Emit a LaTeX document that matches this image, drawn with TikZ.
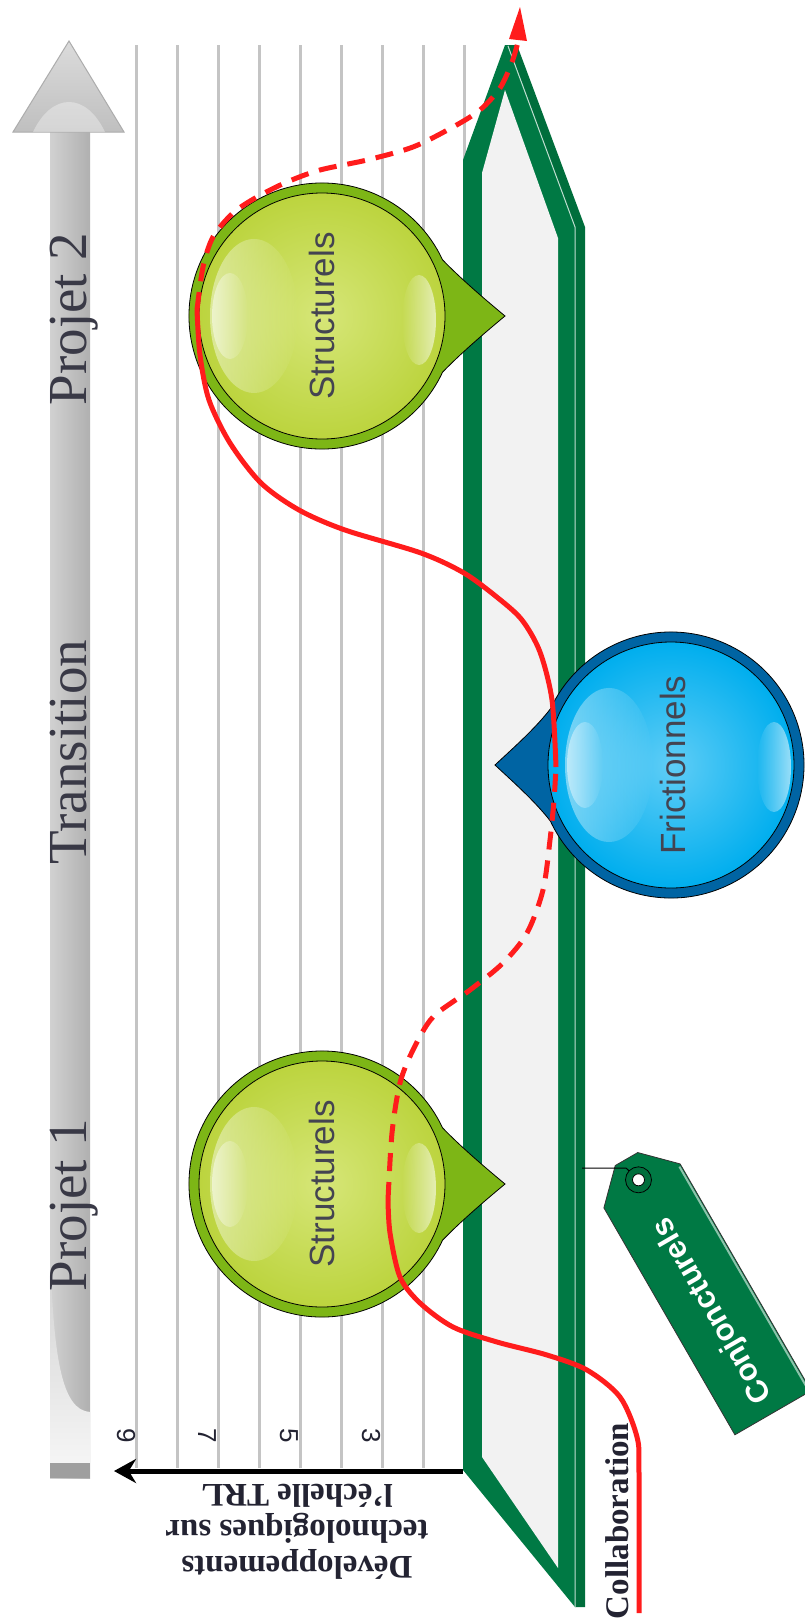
\documentclass[tikz,border=0pt]{standalone}
\usepackage{fontspec}
\setmainfont{Liberation Serif}
\newfontfamily\policesans{Liberation Sans}
\usetikzlibrary{arrows.meta,fadings}
\definecolor{vertfonce}{RGB}{0,121,68}
\definecolor{vertcote}{RGB}{0,110,60}
\definecolor{gristrait}{RGB}{196,196,196}
\definecolor{fondgris}{RGB}{242,242,242}
\definecolor{rouge0}{RGB}{255,28,28}
\definecolor{anneauvert}{RGB}{125,182,22}
\definecolor{fondvert}{RGB}{188,212,62}
\definecolor{clairvert}{RGB}{214,230,120}
\definecolor{anneaubleu}{RGB}{0,100,163}
\definecolor{fondbleu}{RGB}{0,174,238}
\definecolor{clairbleu}{RGB}{95,205,246}
\definecolor{encre}{RGB}{35,35,50}
\tikzfading[name=fondu droite, left color=transparent!0, right color=transparent!100]
\tikzfading[name=fondu gauche, left color=transparent!100, right color=transparent!0]

\begin{document}
\begin{tikzpicture}[
  x=1pt,y=-1pt,
  grille/.style={draw=gristrait,line width=3},
  echelle/.style={draw=black,line width=5,-{Stealth[length=22pt,width=24pt]}},
  trait/.style={draw=rouge0,line width=5},
  tirets/.style={trait,dash pattern=on 18pt off 11pt},
  anneau/.style={fill=#1,draw=black,line width=0.8},
  reflet/.style={white,fill opacity=.45},
  titre/.style={rotate=90,anchor=base,text=encre!90,font=\fontsize{55}{60}\selectfont},
  chiffre/.style={rotate=-90,text=encre,inner sep=0pt,font=\policesans\fontsize{26}{30}\selectfont},
  bulletexte/.style={rotate=90,text=encre!85,font=\policesans\fontsize{35}{40}\selectfont},
  legende/.style={text=encre,font=\bfseries\fontsize{33}{36}\selectfont},
  ficelle/.style={draw=black,line width=1},
]
\fill[white] (0,0) rectangle (805,1623);
\useasboundingbox (0,0) rectangle (805,1623);
% grille TRL
\foreach \x in {136,177,...,464} \draw[grille] (\x,45) -- (\x,1468);
\foreach \x/\n in {126/9,207/7,289/5,371/3} \node[chiffre] (n\n) at (\x,1436) {\n};
\coordinate (trlbas) at (463,1471);
\coordinate (trlhaut) at (114,1471);
\draw[echelle] (trlbas) -- (trlhaut);
% grande fleche grise
\shade[left color=gray!36,right color=gray!62] (50,1478) rectangle (90,130);
\shade[top color=gray!28,bottom color=gray!50,draw=gray!65,line width=1] (13,132) -- (69,41) -- (124,132) -- cycle;
\fill[white,opacity=.35] (33,132) .. controls (52,92) and (86,92) .. (105,132) -- cycle;
\shade[top color=gray!40,bottom color=white!92!gray] (50,1230) .. controls (52,1360) and (62,1410) .. (90,1412) -- (90,1463) -- (50,1463) -- cycle;
\fill[gray!75] (50,1463) rectangle (90,1478);
\node[titre] (projet2) at (86,319) {Projet 2};
\node[titre] (transition) at (86,752) {Transition};
\node[titre] (projet1) at (86,1205) {Projet 1};
% bande verte
\fill[vertfonce] (463,1470) -- (575,1607) -- (575,227) -- (508,45) -- (505,45) -- (463,160) -- cycle;
\fill[vertcote] (508,45) -- (517,45) -- (585,227) -- (585,1607) -- (575,1607) -- (575,227) -- cycle;
\fill[fondgris] (482,1457) -- (558,1568) -- (558,238) -- (505,90) -- (482,173) -- cycle;
\draw[white!75!vertfonce,line width=1] (508,46) -- (575,227) -- (575,1607);
% bulles
\foreach \cy/\nom in {316/struct2,1184/struct1} {
  \begin{scope}[shift={(322,\cy)}]
    \filldraw[anneau=anneauvert] (25:133) arc[start angle=25,end angle=335,radius=133]
      .. controls (140,-36) and (165,-15) .. (183,0) .. controls (165,15) and (140,36) .. (25:133) -- cycle;
    \shadedraw[draw=black,line width=0.8,inner color=clairvert,outer color=fondvert] (0,0) circle[radius=123];
    \fill[reflet,path fading=fondu droite] (-68,0) ellipse[x radius=44,y radius=77];
    \fill[white,fill opacity=.5,path fading=fondu droite] (-92,0) ellipse[x radius=18,y radius=43];
    \fill[white,fill opacity=.6,path fading=fondu gauche] (97,4) ellipse[x radius=17,y radius=45];
  \end{scope}
  \node[bulletexte] (\nom) at (322,\cy) {Structurels};
}
\begin{scope}[shift={(671,765)}]
  \filldraw[anneau=anneaubleu] (155:133) arc[start angle=155,end angle=-155,radius=133]
    .. controls (-136,-36) and (-160,-15) .. (-176,0) .. controls (-160,15) and (-136,36) .. (155:133) -- cycle;
  \shadedraw[draw=black,line width=0.8,inner color=clairbleu,outer color=fondbleu] (0,0) circle[radius=123];
  \fill[reflet,path fading=fondu droite] (-62,0) ellipse[x radius=44,y radius=77];
  \fill[white,fill opacity=.5,path fading=fondu droite] (-86,0) ellipse[x radius=18,y radius=43];
  \fill[white,fill opacity=.6,path fading=fondu gauche] (103,2) ellipse[x radius=17,y radius=45];
\end{scope}
\node[bulletexte] (friction) at (673,765) {Frictionnels};
% trajectoire rouge
\draw[trait] plot[smooth] coordinates {(639,1613) (639,1473) (637,1437) (620,1397) (587,1370)
  (547,1355) (497,1342) (453,1327) (420,1303) (400,1277) (390,1233) (388,1200)};
\draw[tirets] plot[smooth] coordinates {(388,1200) (392,1133) (400,1083) (413,1050) (433,1017)
  (470,990) (503,963) (527,933) (543,890) (550,840) (554,800) (556,767)};
\draw[trait] plot[smooth] coordinates {(556,767) (552,700) (540,652) (522,620) (498,598) (464,573)
  (421,553) (345,530) (299,510) (261,483) (230,443) (209,400) (200,355) (197,310)};
\draw[tirets] plot[smooth] coordinates {(197,310) (203,267) (213,237) (233,213) (257,197)
  (287,182) (320,170) (367,160) (413,147) (453,127) (480,110) (500,88) (512,62) (518,42)};
\fill[rouge0] (520,7) -- (527,41) -- (509,39) -- cycle;
% etiquette
\begin{scope}[shift={(705,1295)},rotate=120]
  \filldraw[fill=vertfonce,draw=black!80,line width=0.8] (-136,-44) -- (126,-44) -- (157,-13) -- (157,13) -- (126,44) -- (-136,44) -- cycle;
  \draw[white!55!vertfonce,line width=2] (124,42) -- (-134,42);
  \coordinate (trou) at (133,0);
\end{scope}
\coordinate (attache) at (582,1168);
\draw[ficelle] (attache) -- ++(44,0) -- (trou);
\filldraw[fill=vertcote,draw=black,line width=0.8] (trou) circle[radius=13];
\filldraw[fill=white,draw=black,line width=0.8] (trou) circle[radius=6];
\node[rotate=120,text=white,font=\policesans\bfseries\fontsize{31}{36}\selectfont] (conj) at (713,1310) {Conjoncturels};
% legendes
\node[legende,rotate=90,anchor=base] (collab) at (628,1521) {Collaboration};
\node[legende,rotate=180,align=center] (trl) at (297,1532) {Développements\\technologiques sur\\l'échelle TRL};
\end{tikzpicture}
\end{document}
